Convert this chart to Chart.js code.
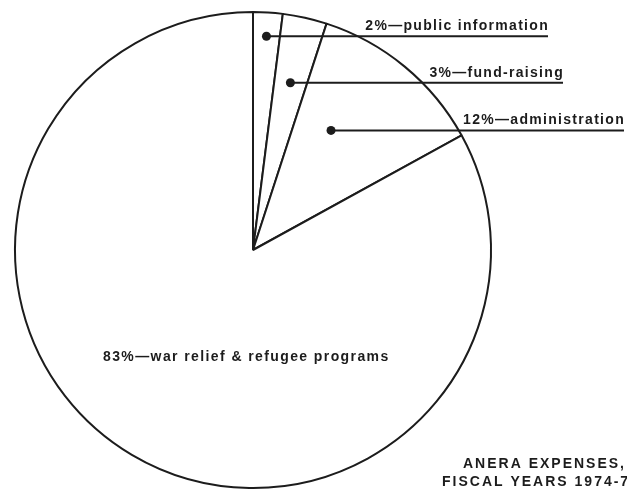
<!DOCTYPE html>
<html>
<head>
<meta charset="utf-8">
<script src="https://cdn.jsdelivr.net/npm/chart.js@4"></script>
<style>
  html, body { margin: 0; padding: 0; background: #fff; }
  canvas { display: block; }
</style>
</head>
<body>
<canvas id="pieChart" width="627" height="491"></canvas>
<script>
// ANERA expenses by purpose (percent)
const categories = ['public information', 'fund-raising', 'administration', 'war relief & refugee programs'];
const shares = [2, 3, 12, 83];
const titleLines = ['ANERA EXPENSES,', 'FISCAL YEARS 1974-7'];

// where each leader line ends and where the dot sits inside its slice
const leaders = [
  { endX: 548, along: 0.5, depth: 0.9 },
  { endX: 563, along: 0.5, depth: 0.72 },
  { endX: 624, along: 0.35, depth: 0.6 }
];

const labelFont = 'bold 14px "Liberation Sans", Arial, sans-serif';
const ink = '#1c1c1c';

const calloutPlugin = {
  id: 'callouts',
  afterDraw(chart) {
    const ctx = chart.ctx;
    const arcs = chart.getDatasetMeta(0).data;
    ctx.save();
    ctx.font = labelFont;
    ctx.fillStyle = ink;
    ctx.strokeStyle = ink;
    ctx.lineWidth = 2;
    ctx.letterSpacing = '1.3px';

    leaders.forEach((l, i) => {
      const a = arcs[i];
      const ang = a.startAngle + (a.endAngle - a.startAngle) * l.along;
      const r = a.outerRadius * l.depth;
      const x = a.x + Math.cos(ang) * r;
      const y = a.y + Math.sin(ang) * r;
      ctx.beginPath();
      ctx.arc(x, y, 4.5, 0, Math.PI * 2);
      ctx.fill();
      ctx.beginPath();
      ctx.moveTo(x, y);
      ctx.lineTo(l.endX, y);
      ctx.stroke();
      ctx.textAlign = 'right';
      ctx.textBaseline = 'alphabetic';
      ctx.fillText(shares[i] + '%\u2014' + categories[i], l.endX + 1, y - 6);
    });

    // big slice label sits inside the pie
    ctx.letterSpacing = '1.4px';
    ctx.textAlign = 'left';
    ctx.textBaseline = 'middle';
    ctx.fillText(shares[3] + '%\u2014' + categories[3], 103, 357);

    // title, bottom right
    ctx.letterSpacing = '2px';
    ctx.textAlign = 'right';
    ctx.fillText(titleLines[0], 626, 464);
    ctx.textAlign = 'left';
    ctx.fillText(titleLines[1], 442, 482);
    ctx.restore();
  }
};

const ctx = document.getElementById('pieChart').getContext('2d');
const pieChart = new Chart(ctx, {
  type: 'pie',
  data: {
    labels: categories,
    datasets: [{
      data: shares,
      backgroundColor: '#ffffff',
      borderColor: ink,
      borderWidth: 2
    }]
  },
  options: {
    responsive: false,
    animation: false,
    layout: {
      padding: { top: 11, bottom: 2, left: 14, right: 135 }
    },
    plugins: {
      legend: { display: false },
      tooltip: { enabled: false }
    }
  },
  plugins: [calloutPlugin]
});
</script>
</body>
</html>
